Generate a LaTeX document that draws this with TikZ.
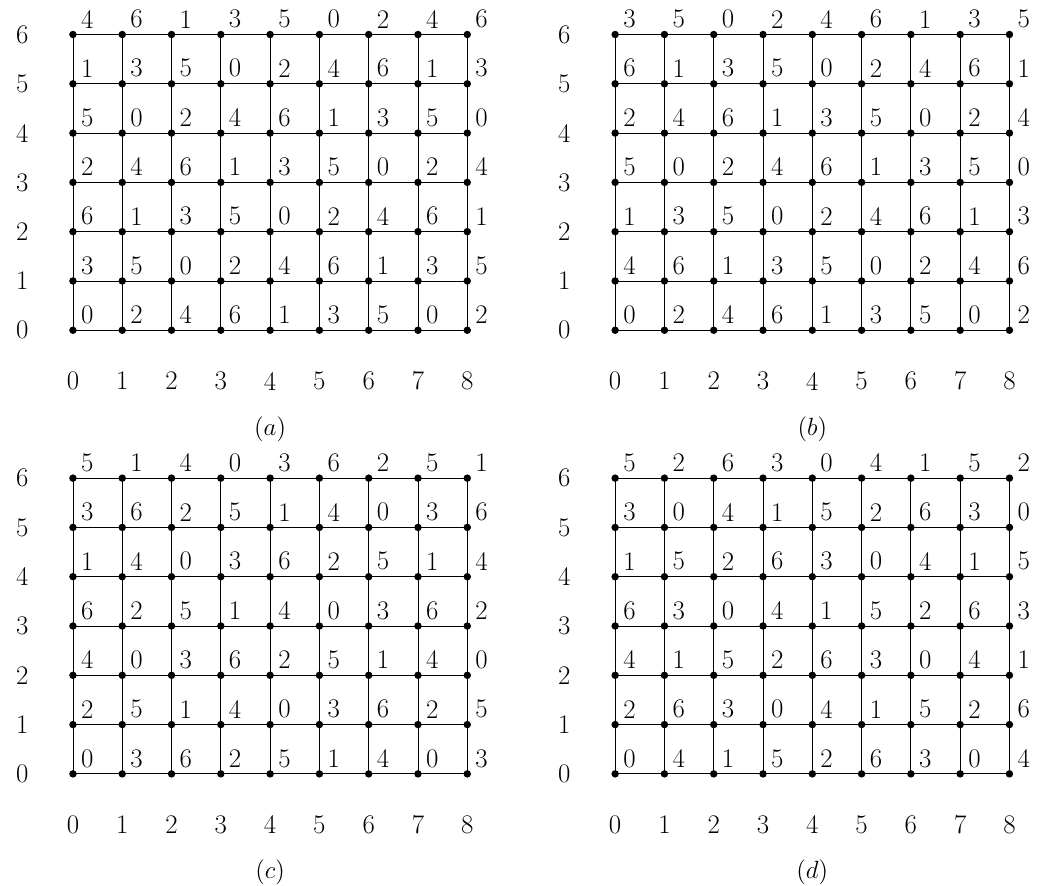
\documentclass[tikz,border=0pt]{standalone}
\usepackage{amsmath, amssymb}
\usepackage{tikz}

\tikzset{
  dot/.style={circle, fill=black, inner sep=0pt, minimum size=4.3pt},
  lab/.style={anchor=south west, inner sep=2.5pt, xshift=2pt, yshift=1pt},
}

\begin{document}
\begin{tikzpicture}[font=\fontsize{15.5}{18}\selectfont]
  \useasboundingbox (-1.48,-11.27) rectangle (19.66,6.70);
  % one panel each: shift, coefficients of x and y (mod 7), caption
  \foreach \ox/\oy/\p/\q/\pname in {0/0/2/3/a, 11/0/2/4/b, 0/-9/3/2/c, 11/-9/4/2/d}{
    \begin{scope}[shift={(\ox,\oy)}]
      \foreach \x in {0,...,8}
        \foreach \y in {0,...,6}
          \coordinate (v\pname-\x-\y) at (\x,\y);
      % grid lines
      \foreach \y in {0,...,6}
        \draw[line width=0.5pt] (v\pname-0-\y) -- (v\pname-8-\y);
      \foreach \x in {0,...,8}
        \draw[line width=0.5pt] (v\pname-\x-0) -- (v\pname-\x-6);
      % vertices with their values
      \foreach \x in {0,...,8}
        \foreach \y in {0,...,6}{
          \pgfmathtruncatemacro{\n}{mod(\p*\x+\q*\y,7)}
          \node[dot] (d\pname-\x-\y) at (v\pname-\x-\y) {};
          \node[lab] (l\pname-\x-\y) at (v\pname-\x-\y) {\n};
        }
      % axes
      \foreach \x in {0,...,8}
        \node (ax\pname-\x) at (\x,-1.03) {\x};
      \foreach \y in {0,...,6}
        \node (ay\pname-\y) at (-1.03,\y) {\y};
      \node (cap\pname) at (4,-2) {$(\pname)$};
    \end{scope}
  }
\end{tikzpicture}
\end{document}
